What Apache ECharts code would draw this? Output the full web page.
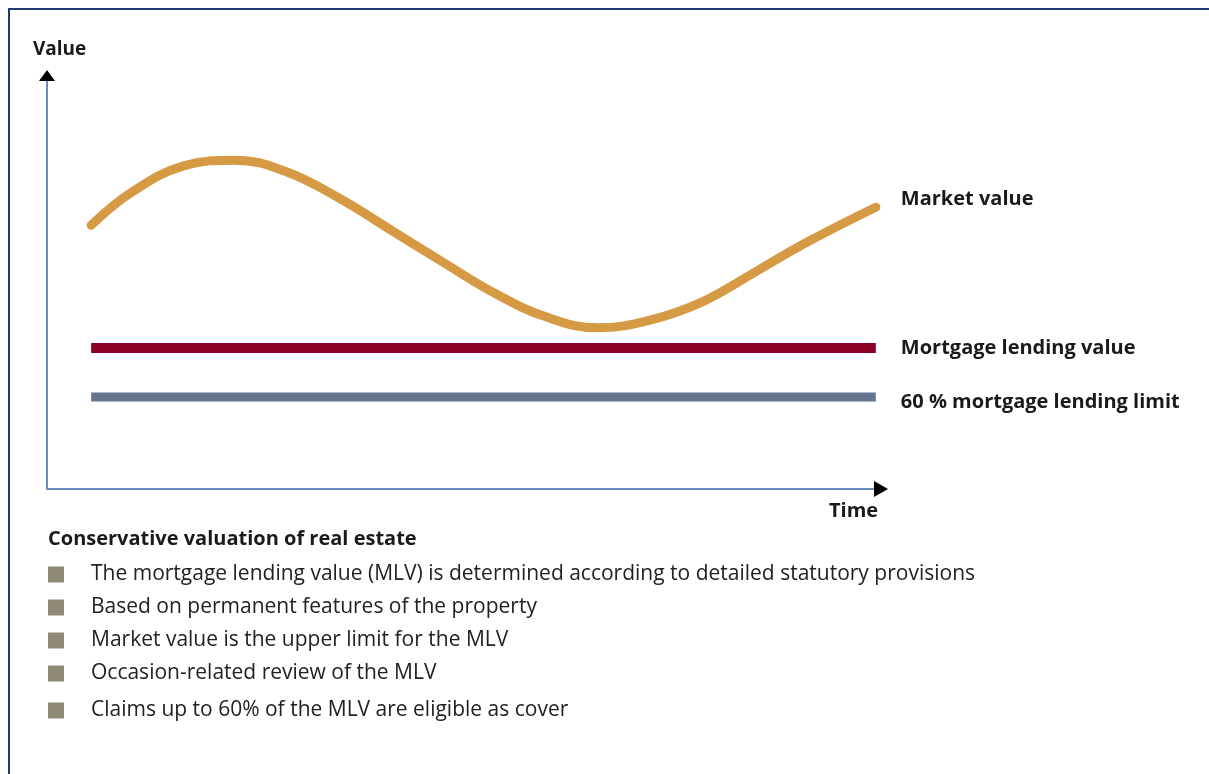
<!DOCTYPE html>
<html>
<head>
<meta charset="utf-8">
<script src="https://cdn.jsdelivr.net/npm/echarts@6/dist/echarts.min.js"></script>
<style>
html,body{margin:0;padding:0;background:#fff;}
#wrap{position:relative;width:1209px;height:774px;}
#chart{width:1209px;height:774px;}
#frame{position:absolute;left:8px;top:8px;right:-4px;bottom:-4px;border-top:2px solid #1F3A72;border-left:2px solid #1F3A72;pointer-events:none;}
</style>
</head>
<body>
<div id="wrap"><div id="chart"></div><div id="frame"></div></div>
<script>
// ---- data ----
var timePoints   = [5.3, 10.2, 16.4, 22.6, 28.8, 35.1, 41.3, 47.5, 53.7, 59.9, 66.1, 72.4, 78.6, 84.8, 91.0, 99.5];
var marketValues = [64.5, 72.6, 79.0, 80.4, 77.5, 71.1, 63.3, 55.5, 47.9, 42.1, 39.4, 41.3, 45.7, 52.8, 60.1, 68.9];
var lineSpan     = [5.3, 99.5];
var mortgageLendingValue = 34.5;
var lendingLimit60 = 22.5;
var seriesNames  = ['Market value', 'Mortgage lending value', '60 % mortgage lending limit'];
var axisNames    = ['Time', 'Value'];
var listTitle    = 'Conservative valuation of real estate';
var listItems    = [
  'The mortgage lending value (MLV) is determined according to detailed statutory provisions',
  'Based on permanent features of the property',
  'Market value is the upper limit for the MLV',
  'Occasion-related review of the MLV',
  'Claims up to 60% of the MLV are eligible as cover'
];

var FONT = '"Open Sans", "Noto Sans", sans-serif';
var marketData = timePoints.map(function (t, i) { return [t, marketValues[i]]; });
var mlvData = lineSpan.map(function (t) { return [t, mortgageLendingValue]; });
var limitData = lineSpan.map(function (t) { return [t, lendingLimit60]; });

function endLabel(text, dy) {
  return {
    show: true,
    formatter: text,
    offset: [17, dy],
    color: '#1a1a1a',
    fontFamily: FONT,
    fontWeight: 'bold',
    fontSize: 20
  };
}

var listText = '{h|' + listTitle + '}\n' + listItems.map(function (s, i) {
  var last = i === listItems.length - 1;
  return (last ? '{b2|}{t2|' : '{b|}{t|') + s + '}';
}).join('\n');

var textT = { fontFamily: FONT, fontWeight: 'normal', fontSize: 21, color: '#222', padding: [0, 0, 0, 27], lineHeight: 33 };
var boxB = { width: 16, height: 16, backgroundColor: '#8E8A76', lineHeight: 33 };

var chart = echarts.init(document.getElementById('chart'), null, { renderer: 'canvas' });
var option = {
  animation: false,
  backgroundColor: '#fff',
  grid: { left: 47, right: 329, top: 80, bottom: 285, containLabel: false },
  xAxis: {
    type: 'value', min: 0, max: 100,
    name: axisNames[0], nameLocation: 'end', nameGap: -51,
    nameTextStyle: { color: '#1a1a1a', fontFamily: FONT, fontWeight: 'bold', fontSize: 20, verticalAlign: 'top', padding: [12, 0, 0, 0] },
    axisLine: { show: true, onZero: false, lineStyle: { color: '#6A8EBE', width: 2 } },
    axisTick: { show: false }, axisLabel: { show: false }, splitLine: { show: false }
  },
  yAxis: {
    type: 'value', min: 0, max: 100,
    name: axisNames[1], nameLocation: 'end', nameGap: 21,
    nameTextStyle: { color: '#1a1a1a', fontFamily: FONT, fontWeight: 'bold', fontSize: 19, align: 'left', padding: [0, 0, 0, -14] },
    axisLine: { show: true, onZero: false, lineStyle: { color: '#6A8EBE', width: 2 } },
    axisTick: { show: false }, axisLabel: { show: false }, splitLine: { show: false }
  },
  title: {
    text: listText,
    left: 48, top: 520, padding: 0,
    textStyle: {
      fontWeight: 'normal',
      rich: {
        h: { fontFamily: FONT, fontWeight: 'bold', fontSize: 20, color: '#1a1a1a', lineHeight: 38 },
        b: boxB,
        t: textT,
        b2: Object.assign({}, boxB, { lineHeight: 41 }),
        t2: Object.assign({}, textT, { lineHeight: 41 })
      }
    }
  },
  series: [
    {
      name: seriesNames[0], type: 'line', data: marketData, smooth: 0.4,
      showSymbol: false, symbol: 'none',
      lineStyle: { color: '#D69A44', width: 9, cap: 'round' },
      endLabel: endLabel(seriesNames[0], -8)
    },
    {
      name: seriesNames[1], type: 'line', data: mlvData,
      showSymbol: false, symbol: 'none',
      lineStyle: { color: '#8C0027', width: 10, cap: 'butt' },
      endLabel: endLabel(seriesNames[1], 0)
    },
    {
      name: seriesNames[2], type: 'line', data: limitData,
      showSymbol: false, symbol: 'none',
      lineStyle: { color: '#63758F', width: 9, cap: 'butt' },
      endLabel: endLabel(seriesNames[2], 5)
    }
  ]
};
chart.setOption(option);

// black arrowheads at the axis ends, placed from the library's scales
var origin = chart.convertToPixel({ gridIndex: 0 }, [0, 0]);
var xEnd = chart.convertToPixel({ gridIndex: 0 }, [100, 0]);
var yEnd = chart.convertToPixel({ gridIndex: 0 }, [0, 100]);
chart.setOption({
  graphic: [
    { type: 'polygon', shape: { points: [[xEnd[0] - 6, origin[1] - 8], [xEnd[0] + 8, origin[1]], [xEnd[0] - 6, origin[1] + 8]] }, style: { fill: '#000' }, z: 100 },
    { type: 'polygon', shape: { points: [[origin[0] - 8, yEnd[1] + 1], [origin[0], yEnd[1] - 10], [origin[0] + 8, yEnd[1] + 1]] }, style: { fill: '#000' }, z: 100 }
  ]
});
</script>
</body>
</html>
